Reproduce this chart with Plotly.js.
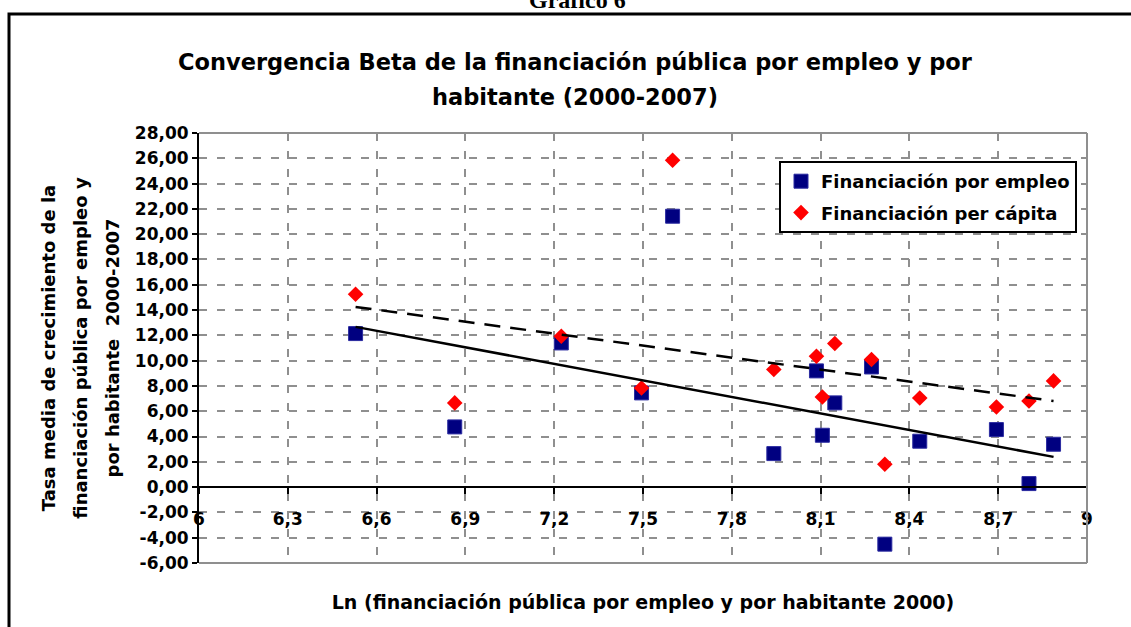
<!DOCTYPE html>
<html>
<head>
<meta charset="utf-8">
<script src="https://cdn.plot.ly/plotly-3.0.1.min.js"></script>
<style>html,body{margin:0;padding:0;background:#fff;}#chart{width:1131px;height:627px;}</style>
</head>
<body>
<div id="chart"></div>
<script>
// ---- data ----
const lnX = [6.529, 6.864, 7.224, 7.495, 7.600, 7.942, 8.086, 8.106, 8.148, 8.272, 8.317, 8.435, 8.694, 8.804, 8.887];
const porEmpleo = [12.14, 4.76, 11.40, 7.45, 21.42, 2.65, 9.19, 4.10, 6.66, 9.50, -4.51, 3.63, 4.55, 0.28, 3.39];
const perCapita = [15.25, 6.66, 11.93, 7.84, 25.84, 9.30, 10.35, 7.13, 11.35, 10.09, 1.81, 7.05, 6.34, 6.81, 8.40];
// trend lines (end points)
const trendX = [6.529, 8.887];
const trendEmpleo = [12.67, 2.39];
const trendPerCapita = [14.25, 6.81];
// ticks
const xTickVals = [6, 6.3, 6.6, 6.9, 7.2, 7.5, 7.8, 8.1, 8.4, 8.7, 9];
const xTickText = ['6', '6,3', '6,6', '6,9', '7,2', '7,5', '7,8', '8,1', '8,4', '8,7', '9'];
const yTickVals = [-6, -4, -2, 0, 2, 4, 6, 8, 10, 12, 14, 16, 18, 20, 22, 24, 26, 28];
const yTickText = ['-6,00', '-4,00', '-2,00', '0,00', '2,00', '4,00', '6,00', '8,00', '10,00', '12,00', '14,00', '16,00', '18,00', '20,00', '22,00', '24,00', '26,00', '28,00'];
const seriesNames = ['Financiación por empleo', 'Financiación per cápita'];
const titleLines = ['Convergencia Beta de la financiación pública por empleo y por', 'habitante (2000-2007)'];
const yTitleLines = ['Tasa media de crecimiento de la', 'financiación pública por empleo y', 'por habitante  2000-2007'];
const xTitle = 'Ln (financiación pública por empleo y por habitante 2000)';
const supTitle = 'Gráfico 6';

const FONT = 'DejaVu Sans, Liberation Sans, Arial, sans-serif';
const span = (t, s) => '<span style="font-size:' + s + 'px">' + t + '</span>';

const traces = [
  {
    type: 'scatter', mode: 'markers', name: seriesNames[0], legendgroup: 'a',
    x: lnX, y: porEmpleo,
    marker: {symbol: 'square', size: 14, color: '#000080', line: {color: '#2b2ba0', width: 1}}
  },
  {
    type: 'scatter', mode: 'markers', name: seriesNames[1], legendgroup: 'b',
    x: lnX, y: perCapita,
    marker: {symbol: 'diamond', size: 12, color: '#ff0000', line: {width: 0}}
  },
  {
    type: 'scatter', mode: 'lines', showlegend: false, hoverinfo: 'skip',
    x: trendX, y: trendEmpleo,
    line: {color: '#000000', width: 2.5}
  },
  {
    type: 'scatter', mode: 'lines', showlegend: false, hoverinfo: 'skip',
    x: trendX, y: trendPerCapita,
    line: {color: '#000000', width: 2.5, dash: '16px,10px'}
  }
];

const GRID = '#8f8f8f';
const layout = {
  width: 1131, height: 627,
  margin: {l: 199, r: 44, t: 133, b: 64, autoexpand: false},
  paper_bgcolor: '#ffffff', plot_bgcolor: '#ffffff',
  font: {family: FONT, size: 17, color: '#000000', weight: 'bold'},
  showlegend: true,
  title: {
    text: span(titleLines[0], 22.5) + '<br>' + span(titleLines[1], 22.5),
    font: {family: FONT, size: 27, color: '#000000', weight: 'bold'},
    xref: 'paper', x: 0.4234, xanchor: 'center',
    yref: 'container', y: 0.889, yanchor: 'middle'
  },
  xaxis: {
    range: [6, 9], autorange: false,
    anchor: 'free', position: 6 / 34,
    tickvals: xTickVals, ticktext: xTickText,
    ticks: 'outside', ticklen: 6, tickwidth: 2, tickcolor: '#000000',
    ticklabelstandoff: 10,
    tickfont: {family: FONT, size: 17, color: '#000000', weight: 'bold'},
    showline: true, linecolor: '#000000', linewidth: 2,
    showgrid: true, gridcolor: GRID, gridwidth: 2, griddash: '8px,10px',
    zeroline: false,
    title: {text: xTitle + '\u00a0\u00a0\u00a0\u00a0', standoff: 67, font: {family: FONT, size: 19, color: '#000000', weight: 'bold'}}
  },
  yaxis: {
    range: [-6, 28], autorange: false,
    tickvals: yTickVals, ticktext: yTickText,
    ticks: 'outside', ticklen: 5, tickwidth: 2, tickcolor: '#000000',
    tickfont: {family: FONT, size: 17, color: '#000000', weight: 'bold'},
    showline: true, linecolor: '#000000', linewidth: 2,
    showgrid: true, gridcolor: GRID, gridwidth: 2, griddash: '8px,10px',
    zeroline: false,
    title: {
      text: yTitleLines.map(t => span(t, 18)).join('<br>'),
      font: {family: FONT, size: 24.6, color: '#000000', weight: 'bold'},
      standoff: 8
    }
  },
  legend: {
    x: (779 - 199) / 888, xanchor: 'left',
    y: (563 - 161) / 430, yanchor: 'top',
    bgcolor: '#ffffff', bordercolor: '#000000', borderwidth: 2,
    font: {family: FONT, size: 18, color: '#000000', weight: 'bold'},
    tracegroupgap: 5, itemwidth: 30
  },
  shapes: [
    // plot-area border (grey), top / right / bottom
    {type: 'line', xref: 'paper', yref: 'paper', x0: 0, x1: 1, y0: 1, y1: 1, line: {color: GRID, width: 2}},
    {type: 'line', xref: 'paper', yref: 'paper', x0: 1, x1: 1, y0: 0, y1: 1, line: {color: GRID, width: 2}},
    {type: 'line', xref: 'paper', yref: 'paper', x0: 0, x1: 1, y0: 0, y1: 0, line: {color: GRID, width: 2}},
    // outer chart frame
    {type: 'rect', xref: 'paper', yref: 'paper',
     x0: (9 - 199) / 888, x1: (1160 - 199) / 888,
     y0: (563 - 680) / 430, y1: (563 - 14) / 430,
     line: {color: '#000000', width: 3}, fillcolor: 'rgba(0,0,0,0)'}
  ],
  annotations: [
    {text: supTitle, xref: 'paper', yref: 'paper', x: (577 - 199) / 888, y: (563 - 15) / 430,
     xanchor: 'center', yanchor: 'bottom', showarrow: false,
     font: {family: 'Liberation Serif, Times New Roman, serif', size: 24, color: '#000000', weight: 'bold'}}
  ]
};

Plotly.newPlot('chart', traces, layout, {displayModeBar: false, staticPlot: true});
</script>
</body>
</html>
